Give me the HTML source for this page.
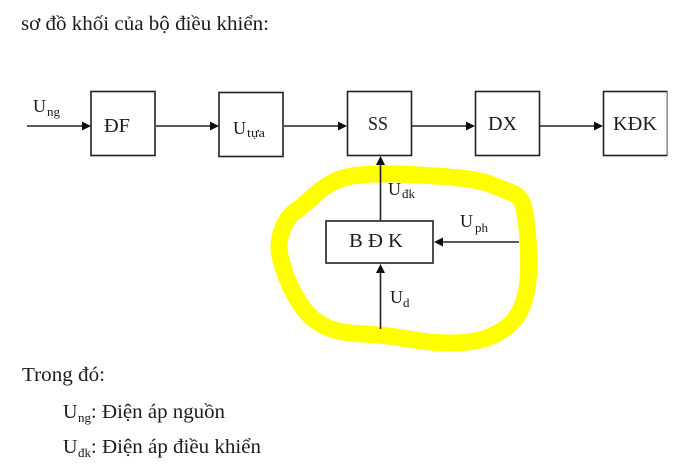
<!DOCTYPE html>
<html><head><meta charset="utf-8"><style>
html,body{margin:0;padding:0;background:#fff;width:685px;height:467px;overflow:hidden}
svg{display:block}
text{font-family:"Liberation Serif","Noto Serif CJK SC",serif;fill:#1a1a1a}
.b{fill:#fff;stroke:#222;stroke-width:1.6}
.l{stroke:#222;stroke-width:1.6;fill:none}
.a{fill:#111}
.t{font-size:20px}
.u{font-size:18px}
.s{font-size:13px}
.p{font-size:20px}
</style></head><body>
<svg width="685" height="467" viewBox="0 0 685 467" xmlns="http://www.w3.org/2000/svg">
<defs><filter id="bl" x="0" y="0" width="100%" height="100%"><feGaussianBlur stdDeviation="0.35"/></filter></defs>
<g filter="url(#bl)">
<text x="21" y="30" class="p" textLength="248" lengthAdjust="spacingAndGlyphs">sơ đồ khối của bộ điều khiển:</text>

<path d="M410,174.500 Q440,176 460,178 Q480,180 492.500,185 Q505,190 513.500,193.500 Q522,197 524.500,211 Q527,225 528,240 Q529,255 528.500,272.500 Q528,290 523,304 Q518,318 507.500,326.500 Q497,335 483.500,339 Q470,343 450,343 Q430,343 408.500,339 Q387,335 363.500,334 Q340,333 327.500,327.500 Q315,322 307.500,313.500 Q300,305 293.500,292.500 Q287,280 283,267.500 Q279,255 279,246.500 Q279,238 283,228 Q287,217 296,211 Q304,205 311.500,198 Q318,191 329,184.500 Q340,177 360,175 Q380,173 410,174.500 Z" fill="none" stroke="#ffff00" stroke-width="17" stroke-linejoin="round"/>

<rect class="b" x="91" y="91.500" width="64" height="64"/>
<rect class="b" x="219" y="92.500" width="64" height="64"/>
<rect class="b" x="347.500" y="91.500" width="64" height="64"/>
<rect class="b" x="475.500" y="91.500" width="64" height="64"/>
<rect class="b" x="603.500" y="91.500" width="64" height="64"/>
<rect class="b" x="326" y="221" width="107" height="42"/>

<path class="l" d="M27,126H84M156,126H212M284,126H340M412,126H468M540,126H596M380.500,221V163M380.500,329V272M519,242H440"/>
<polygon class="a" points="91,126 82,121.500 82,130.500"/>
<polygon class="a" points="219,126 210,121.500 210,130.500"/>
<polygon class="a" points="347,126 338,121.500 338,130.500"/>
<polygon class="a" points="475,126 466,121.500 466,130.500"/>
<polygon class="a" points="603,126 594,121.500 594,130.500"/>
<polygon class="a" points="380.500,156 376,165 385,165"/>
<polygon class="a" points="380.500,264 376,273 385,273"/>
<polygon class="a" points="434,242 443,237.500 443,246.500"/>

<text x="33" y="112" class="u">U</text><text x="47" y="116" class="s">ng</text>
<text x="104" y="132" class="t" textLength="26" lengthAdjust="spacingAndGlyphs">ĐF</text>
<text x="233" y="134" class="u">U</text><text x="247" y="137" class="s" textLength="18" lengthAdjust="spacingAndGlyphs">tựa</text>
<text x="368" y="130" class="t" textLength="20" lengthAdjust="spacingAndGlyphs">SS</text>
<text x="488" y="130" class="t" textLength="29" lengthAdjust="spacingAndGlyphs">DX</text>
<text x="613" y="130" class="t" textLength="44" lengthAdjust="spacingAndGlyphs">KĐK</text>
<text x="388" y="195" class="u">U</text><text x="402" y="198" class="s">đk</text>
<text x="349" y="247" class="t" textLength="54" lengthAdjust="spacingAndGlyphs">B Đ K</text>
<text x="460" y="227" class="u">U</text><text x="475" y="232" class="s">ph</text>
<text x="390" y="303" class="u">U</text><text x="403" y="307" class="s">d</text>

<text x="22" y="381" class="p" textLength="83" lengthAdjust="spacingAndGlyphs">Trong đó:</text>
<text x="63" y="418" class="p">U</text><text x="78" y="422" class="s">ng</text><text x="91" y="418" class="p">:</text><text x="102" y="418" class="p" textLength="123" lengthAdjust="spacingAndGlyphs">Điện áp nguồn</text>
<text x="63" y="453" class="p">U</text><text x="78" y="457" class="s">đk</text><text x="91" y="453" class="p">:</text><text x="102" y="453" class="p" textLength="159" lengthAdjust="spacingAndGlyphs">Điện áp điều khiển</text>
</g>
</svg>
</body></html>
